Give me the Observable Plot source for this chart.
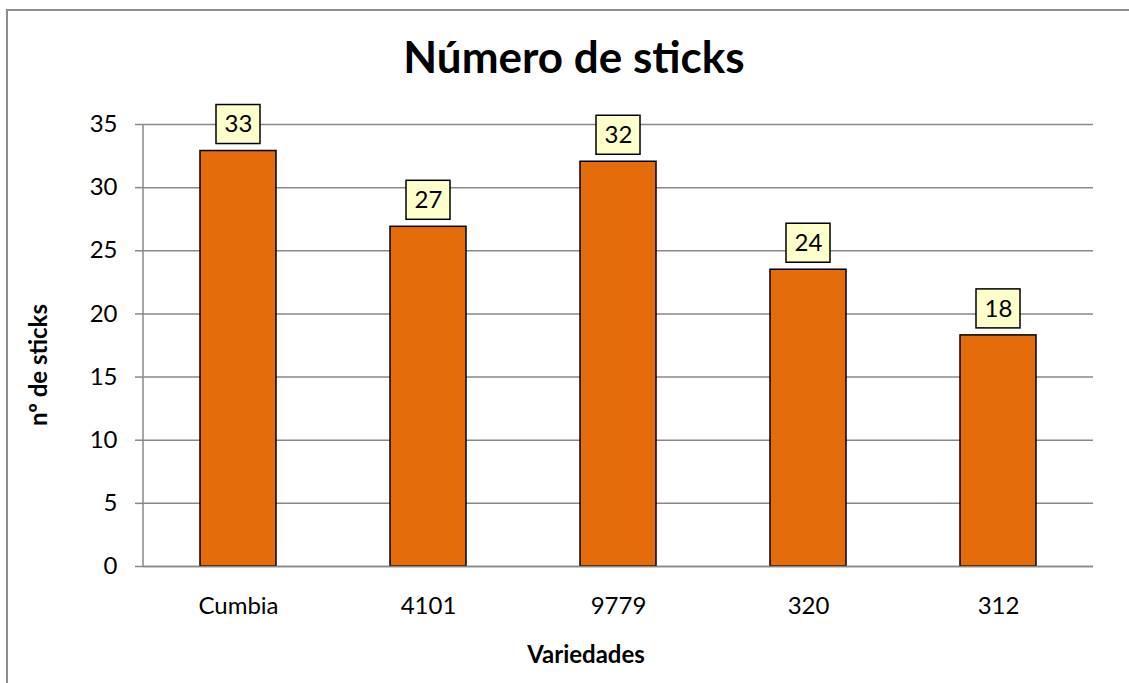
<!DOCTYPE html>
<html><head><meta charset="utf-8">
<script src="https://cdn.jsdelivr.net/npm/d3@7"></script>
<script src="https://cdn.jsdelivr.net/npm/@observablehq/plot@0.6"></script>
<style>body{margin:0;background:#fff} svg{display:block}</style>
</head><body><div id="chart"></div>
<script>
const categories = ["Cumbia", "4101", "9779", "320", "312"];
const values = [32.9, 26.9, 32.05, 23.5, 18.3];
const labels = ["33", "27", "32", "24", "18"];
const yTicks = [0, 5, 10, 15, 20, 25, 30, 35];
const title = "Número de sticks";
const xTitle = "Variedades";
const yTitle = "nº de sticks";

const data = categories.map((c, i) => ({cat: c, value: values[i], label: labels[i]}));
const font = "Lato, 'Open Sans', sans-serif";
const gray = "#888888";

const chart = Plot.plot({
  width: 1129, height: 683,
  marginLeft: 143, marginRight: 36, marginTop: 124, marginBottom: 117,
  style: {fontFamily: font, fontSize: "24px", color: "#000", background: "#fff", overflow: "visible"},
  x: {domain: categories, paddingInner: 0.6, paddingOuter: 0.3, label: null},
  y: {domain: [0, 35], ticks: yTicks, label: null},
  marks: [
    Plot.gridY(yTicks, {stroke: gray, strokeOpacity: 1, strokeWidth: 1.5}),
    Plot.axisY(yTicks, {tickSize: 8, tickPadding: 18, stroke: gray, strokeWidth: 1.5, fill: "#000", label: null, fontSize: 24}),
    Plot.axisX({tickSize: 0, tickPadding: 30, label: null, fontSize: 24, fill: "#000"}),
    Plot.barY(data, {x: "cat", y: "value", fill: "#E46C0A", stroke: "#000", strokeWidth: 1.5}),
    Plot.ruleY([0], {stroke: gray, strokeWidth: 1.5}),
    Plot.barY(data, {x: "cat", y1: "value", y2: "value", insetLeft: 16, insetRight: 16, insetTop: -39, dy: -7, fill: "#FFFFCC", stroke: "#000", strokeWidth: 1.5}),
    Plot.text(data, {x: "cat", y: "value", text: "label", dy: -26.5, fontSize: 24, fill: "#000"})
  ]
});

const svg = d3.select(chart);
const xs = chart.scale("x"), ys = chart.scale("y");
svg.append("line")
  .attr("x1", xs.range[0]).attr("x2", xs.range[0])
  .attr("y1", ys.apply(0)).attr("y2", ys.apply(35))
  .attr("stroke", gray).attr("stroke-width", 1.5);
svg.append("rect")
  .attr("x", 7).attr("y", 10).attr("width", 2000).attr("height", 2000)
  .attr("fill", "none").attr("stroke", "#8c8c8c").attr("stroke-width", 2);
svg.append("text").text(title)
  .attr("x", 574).attr("y", 73).attr("text-anchor", "middle")
  .attr("font-family", font).attr("font-weight", "bold").attr("font-size", 44).attr("fill", "#000");
svg.append("text").text(xTitle)
  .attr("x", 586).attr("y", 663).attr("text-anchor", "middle")
  .attr("font-family", font).attr("font-weight", "bold").attr("font-size", 24).attr("fill", "#000");
svg.append("text").text(yTitle)
  .attr("transform", "translate(47,365) rotate(-90)").attr("text-anchor", "middle")
  .attr("font-family", font).attr("font-weight", "bold").attr("font-size", 24).attr("fill", "#000");

document.getElementById("chart").appendChild(chart);
</script>
</body></html>
